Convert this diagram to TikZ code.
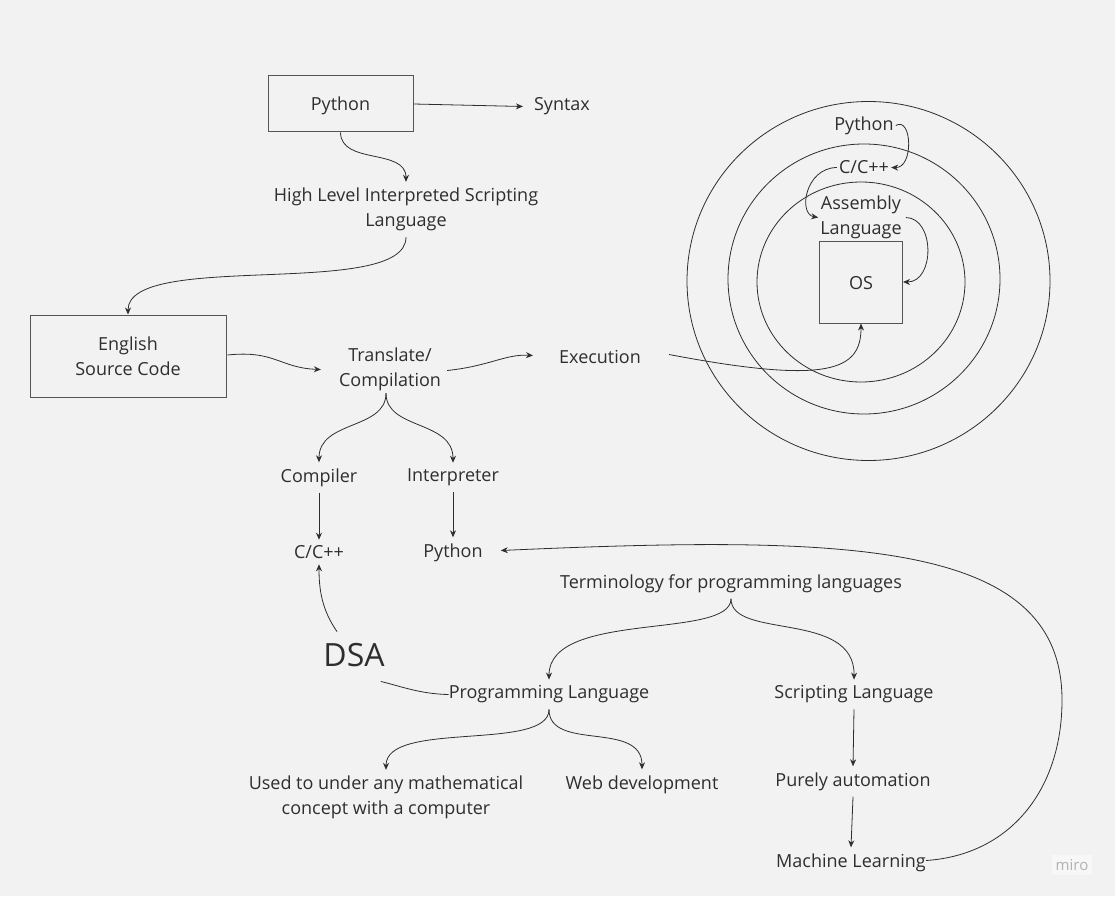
\documentclass[tikz,border=0pt]{standalone}
\usepackage{fontspec}
\setmainfont{Open Sans}
\usetikzlibrary{arrows.meta,calc}
\definecolor{bg}{HTML}{F2F2F2}
\definecolor{ink}{HTML}{2E2E2E}
\definecolor{edge}{HTML}{555555}
\begin{document}
\begin{tikzpicture}[x=1pt,y=-1pt,
  font=\fontsize{18}{25}\selectfont,
  lbl/.style={text=ink, align=center, inner sep=6pt, yshift=-1.5pt},
  tight/.style={text=ink, align=center, inner sep=2pt, yshift=-1.5pt},
  box/.style={draw=edge, line width=1pt, text=ink, align=center},
  lowtext/.style={text height=17pt, text depth=3pt},
  conn/.style={draw=ink, line width=0.8pt, -{Stealth[length=7pt,width=6pt]}},
  plain/.style={draw=ink, line width=0.8pt}]
\fill[bg] (0,0) rectangle (1115,896);
\useasboundingbox (0,0) rectangle (1115,896);

% top-left chain
\node[box, lowtext, minimum width=145pt, minimum height=56pt] (py) at (340.5,104) {Python};
\node[lbl] (syn) at (562,105) {Syntax};
\node[lbl] (hl) at (406,208) {High Level Interpreted Scripting\\Language};
\node[box, minimum width=196pt, minimum height=82pt] (en) at (128,356) {English\\Source Code};
\node[lbl] (tc) at (390,368) {Translate/\\Compilation};
\node[lbl] (ex) at (600,355) {Execution};

\draw[conn] (py.east) -- ($(syn.west)+(-5,0)$);
\draw[conn] (py.south) .. controls (341,165) and (406,148) .. (hl.north);
\draw[conn] (hl.south) .. controls (406,300) and (128,250) .. (en.north);
\draw[conn] ($(en.east)+(1,-1)$) .. controls (275,350) and (280,368) .. ($(tc.west)+(-12,0)$);
\draw[conn] ($(tc.east)+(0,1)$) .. controls (490,366) and (505,354) .. ($(ex.west)+(-20,-1)$);

% concentric circles
\draw[plain] (868.5,281) ellipse [x radius=181.5, y radius=179.5];
\draw[plain] (864,279) ellipse [x radius=136, y radius=135];
\draw[plain] (861,282) ellipse [x radius=104, y radius=100];
\node[box, lowtext, minimum width=83pt, minimum height=82pt] (os) at (861,282) {OS};
\node[tight] (ip) at (864,124) {Python};
\node[tight] (ic) at (864,166) {C/C++};
\node[tight] (ia) at (861,216) {Assembly\\Language};

\draw[conn] (ip.east) .. controls (912,116) and (914,168) .. (ic.east);
\draw[conn] (ic.west) .. controls (805,168) and (798,214) .. (ia.west);
\draw[conn] ($(ia.east)+(2,0)$) .. controls (935,218) and (935,282) .. (os.east);
\draw[conn] ($(ex.east)+(22,-2)$) .. controls (830,385) and (861,370) .. (os.south);

% compiler / interpreter
\node[lbl] (comp) at (319,476) {Compiler};
\node[lbl] (intp) at (453,476) {Interpreter};
\node[lbl] (cc) at (319,551) {C/C++};
\node[lbl] (py2) at (453,551) {Python};
\draw[conn] ($(tc.south)+(-4,-4)$) .. controls (386,430) and (319,420) .. (comp.north);
\draw[conn] ($(tc.south)+(-4,-4)$) .. controls (386,430) and (453,420) .. (intp.north);
\draw[conn] (comp.south) -- (cc.north);
\draw[conn] (intp.south) -- (py2.north);

% DSA
\node[tight, font=\fontsize{32}{38}\selectfont] (dsa) at (354,654) {DSA};
\draw[conn] ($(dsa.north)+(-17,-10)$) .. controls (322,610) and (319,590) .. ($(cc.south)+(0,-1)$);

% terminology tree
\node[lbl] (tm) at (731,582) {Terminology for programming languages};
\node[lbl] (pl) at (549,693) {Programming Language};
\node[lbl] (sl) at (854,693) {Scripting Language};
\node[lbl] (pa) at (853,780) {Purely automation};
\node[lbl] (ml) at (851,861) {Machine Learning};
\node[lbl] (used) at (386,796) {Used to under any mathematical\\concept with a computer};
\node[lbl] (web) at (642,783) {Web development};

\draw[plain] ($(pl.west)+(6,0)$) .. controls (420,694) and (400,686) .. ($(dsa.south east)+(-6,12)$);
\draw[conn] (tm.south) .. controls (731,640) and (549,610) .. (pl.north);
\draw[conn] (tm.south) .. controls (731,640) and (855,610) .. (sl.north);
\draw[conn] (sl.south) -- (pa.north);
\draw[conn] (pa.south) -- (ml.north);
\draw[conn] (pl.south) .. controls (549,752) and (386,720) .. (used.north);
\draw[conn] (pl.south) .. controls (549,752) and (642,720) .. (web.north);
\draw[conn] ($(ml.east)+(-6,-2)$) .. controls (1010,855) and (1062,790) .. (1062,700)
   .. controls (1062,540) and (850,535) .. ($(py2.east)+(12,-2)$);

% watermark
\node[text=black!30, fill=white!40!bg, font=\fontsize{15}{17}\selectfont, inner sep=4pt] (miro) at (1072,865) {miro};
\end{tikzpicture}
\end{document}
